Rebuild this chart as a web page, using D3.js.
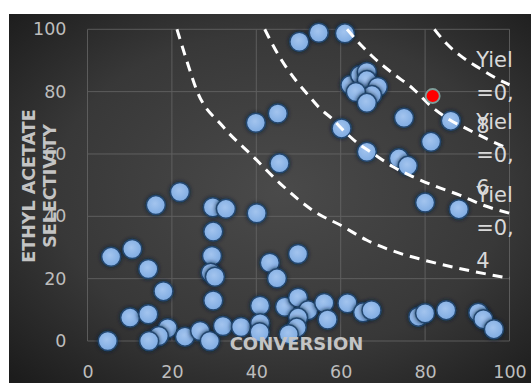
<!DOCTYPE html>
<html>
<head>
<meta charset="utf-8">
<script src="https://cdn.jsdelivr.net/npm/d3@7"></script>
<style>
  body { margin: 0; background: #ffffff; }
  svg { display: block; }
  text { font-family: "DejaVu Sans", sans-serif; }
</style>
</head>
<body>
<svg id="chart" width="531" height="383"></svg>
<script>
// Experimental runs: conversion (%) and ethyl acetate selectivity (%)
const conversion = [
  21.9, 16.2, 29.7, 32.8, 29.8, 5.6, 10.6, 14.4, 29.5, 29.2, 30.2, 18.0, 29.8,
  10.1, 14.4, 4.8, 19.0, 16.9, 14.6, 23.1, 26.7, 29.0, 32.1, 36.4,
  40.1, 49.9, 43.2, 44.9, 40.9, 46.8, 49.9, 52.3, 56.1, 61.6, 56.9, 49.9, 49.6,
  47.7, 40.9, 40.8, 65.3, 67.3, 78.4, 80.0, 85.0, 92.6, 93.8, 96.3,
  80.0, 88.0, 50.2, 54.8, 61.0, 39.9, 45.1, 45.5, 60.2, 66.2, 75.0, 86.1, 81.4,
  73.8, 75.9, 62.3, 64.6, 66.2, 66.2, 68.8, 67.4, 63.6, 66.2
];
const selectivity = [
  47.8, 43.6, 42.9, 42.4, 35.1, 27.0, 29.5, 23.1, 27.3, 21.9, 20.6, 16.0, 13.0,
  7.5, 8.6, 0.0, 4.1, 1.6, 0.0, 1.4, 3.2, 0.0, 4.8, 4.5,
  41.0, 27.9, 25.1, 20.1, 11.3, 11.0, 13.9, 9.9, 12.2, 12.1, 6.9, 7.5, 4.3,
  2.2, 5.7, 2.8, 9.2, 9.9, 7.8, 8.9, 9.9, 9.1, 7.0, 3.8,
  44.4, 42.3, 96.0, 98.9, 98.7, 70.0, 73.0, 57.0, 68.2, 60.7, 71.6, 70.7, 63.9,
  58.6, 56.2, 82.1, 85.3, 86.3, 83.7, 81.5, 78.9, 79.9, 76.4
];

// Highlighted run
const bestConversion = [81.8];
const bestSelectivity = [78.6];

// Iso-yield curves
const yield02Conversion = [21.2, 23.5, 25.9, 32.1, 39.3, 45.6, 54.4, 59.9, 66.1, 74.1, 79.6, 100];
const yield02Selectivity = [100, 90.0, 80.4, 68.8, 59.1, 50.6, 41.0, 37.2, 32.4, 28.1, 26.0, 20.1];
const yield04Conversion = [42.0, 44.8, 49.6, 52.3, 55.1, 57.9, 61.0, 64.1, 67.6, 72.4, 77.1, 82.7, 88.2, 93.7, 100];
const yield04Selectivity = [100, 92.8, 83.2, 78.9, 74.6, 71.4, 67.1, 63.4, 60.2, 55.9, 52.7, 49.5, 46.8, 43.6, 41.0];
const yield06Conversion = [61.5, 65.2, 67.6, 72.4, 77.1, 81.1, 85.9, 89.7, 94.4, 100];
const yield06Selectivity = [100, 94.4, 91.2, 85.8, 81.0, 75.7, 70.9, 68.2, 65.0, 61.5];
const yield08Conversion = [82.2, 85.0, 88.2, 93.0, 98.4, 100];
const yield08Selectivity = [100, 95.5, 91.7, 87.4, 83.2, 82.2];

// Curve labels (wrapped as shown)
const yieldLabelLines = [["Yiel", "=0,", "8"], ["Yiel", "=0,", "6"], ["Yiel", "=0,", "4"]];

const xTicks = [0, 20, 40, 60, 80, 100];
const yTicks = [0, 20, 40, 60, 80, 100];
const xTitle = "CONVERSION";
const yTitleLines = ["ETHYL ACETATE", "SELECTIVITY"];

// ---- layout ----
const W = 531, H = 383;
const plot = { left: 87.5, right: 509.5, top: 29.3, bottom: 341 };

const svg = d3.select("#chart");
const defs = svg.append("defs");

const bg = defs.append("radialGradient")
  .attr("id", "bgGrad").attr("cx", "52%").attr("cy", "48%").attr("r", "72%");
bg.append("stop").attr("offset", "0%").attr("stop-color", "#4a4a4a");
bg.append("stop").attr("offset", "60%").attr("stop-color", "#383838");
bg.append("stop").attr("offset", "100%").attr("stop-color", "#1c1c1c");

const dotGrad = defs.append("radialGradient")
  .attr("id", "dotGrad").attr("cx", "45%").attr("cy", "42%").attr("r", "60%");
dotGrad.append("stop").attr("offset", "0%").attr("stop-color", "#a3c4ee");
dotGrad.append("stop").attr("offset", "100%").attr("stop-color", "#7eabe2");

const glow = defs.append("filter").attr("id", "glow")
  .attr("x", "-50%").attr("y", "-50%").attr("width", "200%").attr("height", "200%");
glow.append("feGaussianBlur").attr("in", "SourceAlpha").attr("stdDeviation", 2).attr("result", "blur");
glow.append("feFlood").attr("flood-color", "#0b1d33").attr("flood-opacity", 0.9);
glow.append("feComposite").attr("in2", "blur").attr("operator", "in").attr("result", "shadow");
const merge = glow.append("feMerge");
merge.append("feMergeNode").attr("in", "shadow");
merge.append("feMergeNode").attr("in", "SourceGraphic");

svg.append("rect")
  .attr("x", 9).attr("y", 14).attr("width", W - 9).attr("height", H - 14)
  .attr("fill", "url(#bgGrad)");

const x = d3.scaleLinear().domain([0, 100]).range([plot.left, plot.right]);
const y = d3.scaleLinear().domain([0, 100]).range([plot.bottom, plot.top]);

// gridlines
const grid = svg.append("g").attr("stroke", "#6a6a6a").attr("stroke-width", 1).attr("opacity", 0.75);
grid.selectAll("line.v").data(xTicks).join("line")
  .attr("x1", d => x(d)).attr("x2", d => x(d))
  .attr("y1", y(0)).attr("y2", y(100));
grid.selectAll("line.h").data(yTicks).join("line")
  .attr("x1", x(0)).attr("x2", x(100))
  .attr("y1", d => y(d)).attr("y2", d => y(d));

// axes (labels only)
const xAxis = svg.append("g")
  .attr("transform", `translate(0,${plot.bottom + 25})`)
  .call(d3.axisBottom(x).tickValues(xTicks).tickSize(0).tickPadding(0));
xAxis.select(".domain").remove();
xAxis.selectAll("text")
  .attr("fill", "#bdbdbd").attr("font-size", 17.5)
  .attr("font-family", "DejaVu Sans, sans-serif").attr("dy", "0.71em");

const yAxis = svg.append("g")
  .attr("transform", `translate(${plot.left - 21},0)`)
  .call(d3.axisLeft(y).tickValues(yTicks).tickSize(0).tickPadding(0));
yAxis.select(".domain").remove();
yAxis.selectAll("text")
  .attr("fill", "#bdbdbd").attr("font-size", 17.5)
  .attr("font-family", "DejaVu Sans, sans-serif");

// data points
const points = conversion.map((c, i) => ({ c, s: selectivity[i] }));
svg.append("g").selectAll("circle").data(points).join("circle")
  .attr("cx", d => x(d.c)).attr("cy", d => y(d.s)).attr("r", 9.5)
  .attr("fill", "url(#dotGrad)")
  .attr("stroke", "#24476f").attr("stroke-width", 1.5)
  .attr("filter", "url(#glow)");

// iso-yield curves
const curves = [
  [yield02Conversion, yield02Selectivity],
  [yield04Conversion, yield04Selectivity],
  [yield06Conversion, yield06Selectivity],
  [yield08Conversion, yield08Selectivity]
].map(([cs, ss]) => cs.map((c, i) => [c, ss[i]]));

const line = d3.line().x(d => x(d[0])).y(d => y(d[1])).curve(d3.curveMonotoneX);
svg.append("g").selectAll("path").data(curves).join("path")
  .attr("d", line)
  .attr("fill", "none").attr("stroke", "#ffffff")
  .attr("stroke-width", 3).attr("stroke-dasharray", "10,7");

// highlighted run
svg.append("g").selectAll("circle").data(bestConversion.map((c, i) => ({ c, s: bestSelectivity[i] })))
  .join("circle")
  .attr("cx", d => x(d.c)).attr("cy", d => y(d.s)).attr("r", 7)
  .attr("fill", "#ff0000").attr("stroke", "#7f9e9a").attr("stroke-width", 1.8);

// curve labels, middle line anchored in data space
const labelAnchorConversion = 92.1;
const labelAnchorSelectivity = [77.3, 57.4, 34.0];
const labelLineStep = 33;
const labels = svg.append("g").attr("fill", "#d9d9d9").attr("font-size", 21);
yieldLabelLines.forEach((lines, k) => {
  const mid = y(labelAnchorSelectivity[k]);
  lines.forEach((t, j) => {
    labels.append("text")
      .attr("x", x(labelAnchorConversion))
      .attr("y", mid + (j - 1) * labelLineStep)
      .text(t);
  });
});

// axis titles
svg.append("text")
  .attr("x", (plot.left + plot.right) / 2 - 2).attr("y", plot.bottom + 9)
  .attr("text-anchor", "middle")
  .attr("fill", "#c4c4c4").attr("font-size", 18).attr("font-weight", "bold")
  .text(xTitle);

const yTitle = svg.append("text")
  .attr("transform", `translate(${35},${186}) rotate(-90)`)
  .attr("text-anchor", "middle")
  .attr("fill", "#c4c4c4").attr("font-size", 17.5).attr("font-weight", "bold");
yTitleLines.forEach((t, i) => {
  yTitle.append("tspan").attr("x", 0).attr("dy", i === 0 ? 0 : 21).text(t);
});
</script>
</body>
</html>
